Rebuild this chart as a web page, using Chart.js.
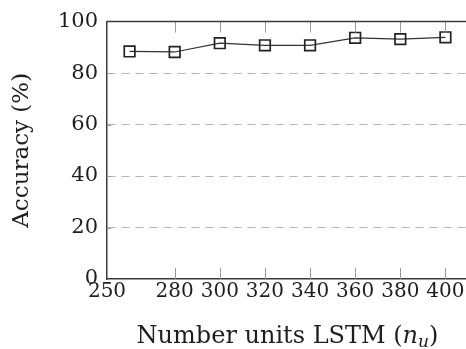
<!DOCTYPE html>
<html lang="en">
<head>
<meta charset="UTF-8">
<title>Accuracy vs LSTM units</title>
<script src="https://cdn.jsdelivr.net/npm/chart.js"></script>
<style>
  html, body { margin: 0; padding: 0; background: #fff; overflow: hidden; }
</style>
</head>
<body>
<canvas id="myChart" width="480" height="349"></canvas>
<script>
// values
const units = [260, 280, 300, 320, 340, 360, 380, 400];
const accuracy = [88.4, 88.2, 91.6, 90.8, 90.8, 93.7, 93.2, 93.9];
const xTickLabels = [250, 280, 300, 320, 340, 360, 380, 400];
const yTickLabels = [0, 20, 40, 60, 80, 100];

const FONT = 'DejaVu Serif';
const INK = '#1e1e1e';

// pgfplots-like frame: top line + inward tick marks, and the x title with n_u
const pgfFrame = {
    id: 'pgfFrame',
    afterDraw(chart) {
        const ctx = chart.ctx;
        const area = chart.chartArea;
        const x = chart.scales.x;
        const y = chart.scales.y;
        ctx.save();
        ctx.strokeStyle = '#9a9a9a';
        ctx.lineWidth = 1;
        xTickLabels.slice(1).forEach(v => {
            const px = Math.round(x.getPixelForValue(v)) + 0.5;
            ctx.beginPath();
            ctx.moveTo(px, area.top);
            ctx.lineTo(px, area.top + 11);
            ctx.moveTo(px, area.bottom);
            ctx.lineTo(px, area.bottom - 11);
            ctx.stroke();
        });
        yTickLabels.slice(1, -1).forEach(v => {
            const py = Math.round(y.getPixelForValue(v)) + 0.5;
            ctx.beginPath();
            ctx.moveTo(area.left, py);
            ctx.lineTo(area.left + 4, py);
            ctx.stroke();
        });
        ctx.strokeStyle = '#3a3a3a';
        ctx.lineWidth = 1.5;
        ctx.beginPath();
        ctx.moveTo(area.left, area.top);
        ctx.lineTo(area.right, area.top);
        ctx.stroke();

        // x axis title
        const parts = [
            { t: 'Number units LSTM (', f: '24px "' + FONT + '"', dy: 0 },
            { t: 'n', f: 'italic 24px "' + FONT + '"', dy: 0 },
            { t: 'u', f: 'italic 17px "' + FONT + '"', dy: 4 },
            { t: ')', f: '24px "' + FONT + '"', dy: 0 }
        ];
        let total = 0;
        parts.forEach(p => { ctx.font = p.f; p.w = ctx.measureText(p.t).width; total += p.w; });
        let cx = (area.left + area.right) / 2 - total / 2;
        const base = 343;
        ctx.fillStyle = INK;
        ctx.textBaseline = 'alphabetic';
        ctx.textAlign = 'left';
        parts.forEach(p => {
            ctx.font = p.f;
            ctx.fillText(p.t, cx, base + p.dy);
            cx += p.w;
        });
        ctx.restore();
    }
};

const ctx = document.getElementById('myChart').getContext('2d');
const myChart = new Chart(ctx, {
    type: 'line',
    data: {
        datasets: [{
            label: 'Accuracy',
            data: units.map((u, i) => ({ x: u, y: accuracy[i] })),
            borderColor: '#333',
            borderWidth: 1.2,
            pointStyle: 'rect',
            pointRadius: 7.5,
            pointBorderWidth: 1.7,
            pointBorderColor: '#222',
            pointBackgroundColor: 'rgba(0,0,0,0)',
            fill: false,
            tension: 0
        }]
    },
    options: {
        responsive: false,
        animation: false,
        devicePixelRatio: 1,
        layout: { padding: { top: 16, right: 12, bottom: 0, left: 0 } },
        plugins: { legend: { display: false }, tooltip: { enabled: false } },
        scales: {
            x: {
                type: 'linear',
                min: 250,
                max: 410,
                afterBuildTicks: s => { s.ticks = xTickLabels.map(v => ({ value: v })); },
                afterFit: s => { s.height = 70; },
                grid: { display: false, drawTicks: false },
                border: { display: true, color: '#3a3a3a', width: 1.5 },
                ticks: {
                    padding: 1,
                    maxRotation: 0,
                    autoSkip: false,
                    color: INK,
                    font: { family: FONT, size: 20 },
                    callback: v => String(v)
                }
            },
            y: {
                type: 'linear',
                min: 0,
                max: 100,
                afterBuildTicks: s => { s.ticks = yTickLabels.map(v => ({ value: v })); },
                afterFit: s => { s.width = 107; },
                grid: {
                    drawTicks: false,
                    color: c => (c.tick && (c.tick.value === 0 || c.tick.value === 100)) ? 'rgba(0,0,0,0)' : '#b4b4b4',
                    lineWidth: 1
                },
                border: { display: true, color: '#3a3a3a', width: 1.5, dash: [8, 6] },
                ticks: {
                    padding: 9,
                    color: INK,
                    font: { family: FONT, size: 21 },
                    callback: v => String(v)
                },
                title: {
                    display: true,
                    text: 'Accuracy (%)',
                    color: INK,
                    font: { family: FONT, size: 23 },
                    padding: { top: 8, bottom: 0 }
                }
            }
        }
    },
    plugins: [pgfFrame]
});
</script>
</body>
</html>
